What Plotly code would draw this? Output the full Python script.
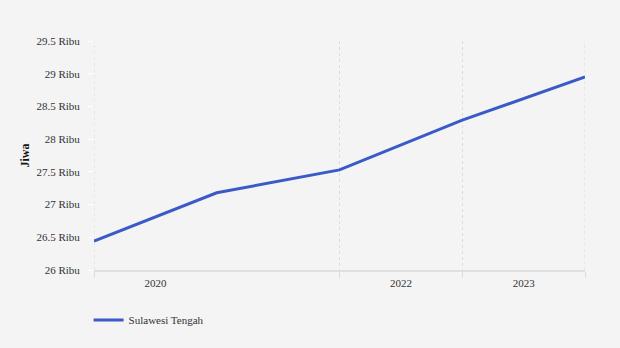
import plotly.graph_objects as go

x_pos = [0, 1, 2, 3, 4]
values = [26440, 27180, 27530, 28290, 28950]
series_name = "Sulawesi Tengah"
x_tick_pos = [0.5, 2.5, 3.5]
x_tick_labels = ["2020", "2022", "2023"]
x_grid_pos = [0, 2, 3, 4]
y_tick_vals = [26000, 26500, 27000, 27500, 28000, 28500, 29000, 29500]
y_tick_labels = ["26 Ribu", "26.5 Ribu", "27 Ribu", "27.5 Ribu", "28 Ribu", "28.5 Ribu", "29 Ribu", "29.5 Ribu"]

font_family = "Liberation Serif"

fig = go.Figure()
fig.add_trace(go.Scatter(
    x=x_pos, y=values, mode="lines", name=series_name,
    line=dict(color="#3a5bc7", width=3),
))

for gx in (x_grid_pos[0], x_grid_pos[-1]):
    fig.add_shape(type="line", xref="x", yref="paper", x0=gx, x1=gx, y0=0, y1=1,
                  line=dict(color="#dcdcdc", width=1, dash="3px,3px"), layer="below")

fig.update_layout(
    width=620, height=348,
    paper_bgcolor="#f4f4f4", plot_bgcolor="#f4f4f4",
    margin=dict(l=94, r=35, t=41, b=78, autoexpand=False),
    font=dict(family=font_family, size=11, color="#333333"),
    showlegend=True,
    legend=dict(orientation="h", x=-0.011, y=-0.155, xanchor="left", yanchor="top",
                font=dict(family=font_family, size=11, color="#333333"), itemwidth=30,
                bgcolor="rgba(0,0,0,0)"),
    xaxis=dict(
        range=[0, 4], tickmode="array", tickvals=x_tick_pos, ticktext=x_tick_labels,
        ticks="", showgrid=False, zeroline=False,
        showline=True, linecolor="#e0e0e0", linewidth=2,
        ticklabelstandoff=2,
        tickfont=dict(family=font_family, size=11, color="#333333"),
        minor=dict(tickmode="array", tickvals=x_grid_pos, showgrid=True,
                   gridcolor="#dcdcdc", griddash="3px,3px", gridwidth=1,
                   ticks="outside", ticklen=6, tickcolor="#dcdcdc", tickwidth=1),
    ),
    yaxis=dict(
        range=[26000, 29500], tickmode="array", tickvals=y_tick_vals, ticktext=y_tick_labels,
        showgrid=False, zeroline=False,
        showline=False,
        ticks="outside", ticklen=5, tickcolor="#ffffff",
        ticklabelstandoff=6,
        tickfont=dict(family=font_family, size=11, color="#333333"),
        title=dict(text="<b>Jiwa</b>", font=dict(family=font_family, size=12, color="#111111"), standoff=4),
    ),
)

fig.write_html("out.html")
